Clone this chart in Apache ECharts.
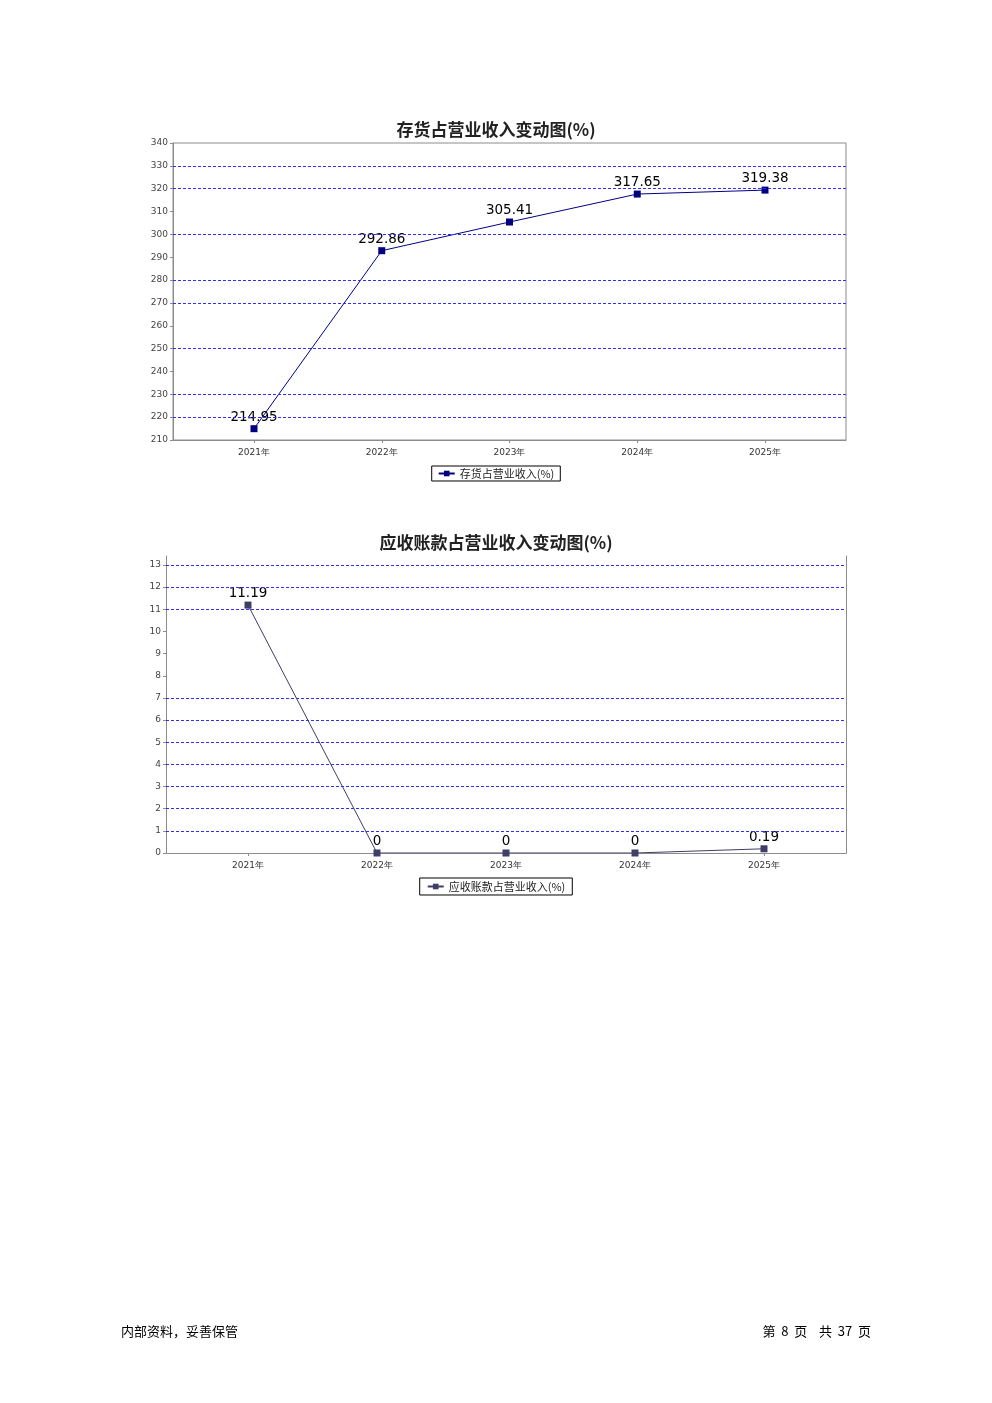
<!DOCTYPE html>
<html>
<head>
<meta charset="utf-8">
<script src="https://cdn.jsdelivr.net/npm/echarts@6/dist/echarts.min.js"></script>
<style>
html,body{margin:0;padding:0;background:#fff;}
#c{width:992px;height:1403px;}
</style>
</head>
<body>
<div id="c"></div>
<script>
// ---- data ----
const years = ['2021年', '2022年', '2023年', '2024年', '2025年'];
const inventoryName = '存货占营业收入(%)';
const inventoryValues = [214.95, 292.86, 305.41, 317.65, 319.38];
const inventoryGridValues = [330, 320, 300, 280, 270, 250, 230, 220];
const receivableName = '应收账款占营业收入(%)';
const receivableValues = [11.19, 0, 0, 0, 0.19];
const receivableGridValues = [13, 12, 11, 7, 6, 5, 4, 3, 2, 1];
const title1 = '存货占营业收入变动图(%)';
const title2 = '应收账款占营业收入变动图(%)';
const footerLeft = '内部资料，妥善保管';
const footerRight = '第  8  页    共  37  页';

const chart = echarts.init(document.getElementById('c'), null, {renderer: 'canvas'});
const axisGray = '#8c8c8c';
const gridLineStyle = {color: '#2f2ff5', type: [3, 2], width: 1, opacity: 1};
const labelFont = 'DejaVu Sans, sans-serif';

function frameY(min, max, hideMax) {
  return {
    type: 'value', min: min, max: max, interval: hideMax ? 1 : 10,
    axisLine: {show: true, lineStyle: {color: axisGray}},
    axisTick: {show: true, length: 3, lineStyle: {color: axisGray}},
    axisLabel: {fontSize: 9, color: '#444', margin: 5, fontFamily: labelFont, showMaxLabel: !hideMax},
    splitLine: {show: false}
  };
}
function hiddenY(min, max, interval) {
  return {type: 'value', min: min, max: max, interval: interval, show: false, splitLine: {show: false}};
}
function frameX() {
  return {type: 'category', data: [''], axisLine: {show: true, lineStyle: {color: axisGray}},
    axisTick: {show: false}, axisLabel: {show: false}, splitLine: {show: false}};
}
function dataX() {
  return {type: 'category', data: years, boundaryGap: false,
    axisLine: {show: false}, axisTick: {show: true, length: 3, lineStyle: {color: axisGray}},
    axisLabel: {fontSize: 9, color: '#333', margin: 8, fontFamily: labelFont}, splitLine: {show: false}};
}
function gridSeries(xi, yi, vals) {
  return {type: 'line', xAxisIndex: xi, yAxisIndex: yi, data: [], silent: true, z: 1,
    markLine: {silent: true, symbol: 'none', animation: false, label: {show: false},
      emphasis: {disabled: true},
      lineStyle: gridLineStyle, data: vals.map(v => ({yAxis: v}))}};
}
function dataSeries(name, vals, xi, yi, color) {
  return {type: 'line', name: name, data: vals, xAxisIndex: xi, yAxisIndex: yi, z: 3,
    symbol: 'rect', symbolSize: 7, color: color,
    lineStyle: {color: color, width: 1}, itemStyle: {color: color},
    label: {show: true, position: 'top', distance: 1, fontSize: 13.5, color: '#000', fontFamily: labelFont},
    animation: false};
}

const legendText = {fontSize: 11, color: '#222', fontFamily: 'Noto Sans CJK SC'};
const option = {
  animation: false,
  title: [
    {text: title1, left: 'center', top: 116, textStyle: {fontSize: 17, fontWeight: 'bold', color: '#222', fontFamily: 'Noto Sans CJK SC'}},
    {text: title2, left: 'center', top: 529, textStyle: {fontSize: 17, fontWeight: 'bold', color: '#222', fontFamily: 'Noto Sans CJK SC'}}
  ],
  legend: [
    {data: [inventoryName], left: 'center', top: 466, borderColor: '#000', borderWidth: 1, padding: [2, 6],
      itemWidth: 16, itemHeight: 7, itemGap: 4, textStyle: legendText},
    {data: [receivableName], left: 'center', top: 878, borderColor: '#000', borderWidth: 1, padding: [3, 7],
      itemWidth: 16, itemHeight: 7, itemGap: 4, textStyle: legendText}
  ],
  grid: [
    {left: 173, top: 143, width: 673, height: 297, show: true, borderColor: axisGray, borderWidth: 1},
    {left: 254, top: 143, width: 511, height: 297},
    {left: 166, top: 556, width: 680, height: 297},
    {left: 248, top: 556, width: 516, height: 297}
  ],
  xAxis: [
    Object.assign(frameX(), {gridIndex: 0}),
    Object.assign(dataX(), {gridIndex: 1}),
    Object.assign(frameX(), {gridIndex: 2}),
    Object.assign(dataX(), {gridIndex: 3})
  ],
  yAxis: [
    Object.assign(frameY(210, 340, false), {gridIndex: 0}),
    Object.assign(hiddenY(210, 340, 10), {gridIndex: 1}),
    Object.assign(frameY(0, 13.406, true), {gridIndex: 2}),
    Object.assign(hiddenY(0, 13.406, 1), {gridIndex: 3}),
    {gridIndex: 2, type: 'value', min: 0, max: 13.406, position: 'right',
      axisLine: {show: true, lineStyle: {color: axisGray}}, axisTick: {show: false}, axisLabel: {show: false}, splitLine: {show: false}}
  ],
  graphic: [
    {type: 'text', left: 121, top: 1325, style: {text: footerLeft, fontSize: 13, fill: '#000', fontFamily: 'Noto Sans CJK SC'}},
    {type: 'text', right: 121, top: 1325, style: {text: footerRight, fontSize: 13, fill: '#000', fontFamily: 'Noto Sans CJK SC'}}
  ],
  series: [
    gridSeries(0, 0, inventoryGridValues),
    dataSeries(inventoryName, inventoryValues, 1, 1, '#000080'),
    gridSeries(2, 2, receivableGridValues),
    dataSeries(receivableName, receivableValues, 3, 3, '#3e3e66')
  ]
};
chart.setOption(option);
</script>
</body>
</html>
